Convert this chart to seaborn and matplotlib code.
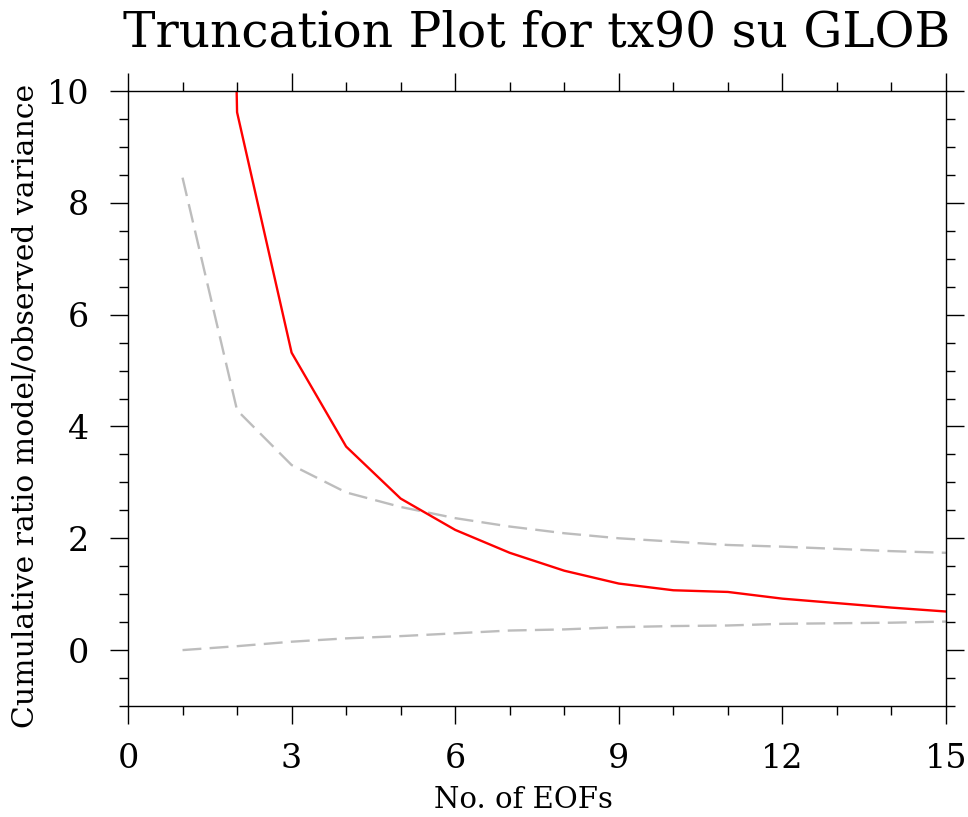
import matplotlib
matplotlib.use("Agg")
import matplotlib.pyplot as plt
from matplotlib.ticker import MultipleLocator
import seaborn as sns
import pandas as pd

# ---- data ----
n_eofs = [1, 2, 3, 4, 5, 6, 7, 8, 9, 10, 11, 12, 13, 14, 15]
ratio = [60.0, 9.62, 5.32, 3.64, 2.71, 2.15, 1.74, 1.42, 1.19, 1.07, 1.04, 0.92, 0.84, 0.76, 0.69]
upper_bound = [8.45, 4.29, 3.31, 2.82, 2.56, 2.36, 2.21, 2.09, 2.00, 1.94, 1.88, 1.85, 1.81, 1.77, 1.74]
lower_bound = [0.00, 0.07, 0.15, 0.21, 0.25, 0.30, 0.35, 0.37, 0.41, 0.43, 0.44, 0.47, 0.48, 0.49, 0.51]
x_ticks = [0, 3, 6, 9, 12, 15]
y_ticks = [0, 2, 4, 6, 8, 10]

title = "Truncation Plot for tx90 su GLOB"
xlabel = "No. of EOFs"
ylabel = "Cumulative ratio model/observed variance"

df = pd.DataFrame({"eof": n_eofs, "ratio": ratio,
                   "upper": upper_bound, "lower": lower_bound})

sns.set_style("ticks")
plt.rcParams["font.family"] = ["DejaVu Serif"]
plt.rcParams["text.color"] = "black"
plt.rcParams["axes.labelcolor"] = "black"
plt.rcParams["xtick.color"] = "black"
plt.rcParams["ytick.color"] = "black"

W, H = 968, 817
fig = plt.figure(figsize=(W / 100, H / 100), dpi=100)
ax = fig.add_axes([128 / W, 1 - 706 / H, (946 - 128) / W, (706 - 91) / H])

grey = "#bdbdbd"
sns.lineplot(data=df, x="eof", y="upper", ax=ax, color=grey, lw=1.7,
             linestyle=(0, (8, 3.5)))
sns.lineplot(data=df, x="eof", y="lower", ax=ax, color=grey, lw=1.7,
             linestyle=(0, (8, 3.5)))
sns.lineplot(data=df, x="eof", y="ratio", ax=ax, color="#ff0000", lw=1.7)

ax.set_xlim(0, 15)
ax.set_ylim(-1, 10)
ax.set_xticks(x_ticks)
ax.set_yticks(y_ticks)
ax.xaxis.set_minor_locator(MultipleLocator(1))
ax.yaxis.set_minor_locator(MultipleLocator(0.5))
ax.tick_params(which="both", direction="out", top=True, right=True,
               color="black", width=1.0)
ax.tick_params(which="major", length=13)
ax.tick_params(which="minor", length=6.5)
ax.tick_params(axis="x", which="major", labelsize=24, pad=14)
ax.tick_params(axis="y", which="major", labelsize=24, pad=15)
for s in ax.spines.values():
    s.set_visible(True)
    s.set_color("black")
    s.set_linewidth(1.0)

ax.set_xlabel(xlabel, fontsize=21)
ax.xaxis.set_label_coords((523 - 128) / 818, (706 - 786) / 615)
ax.xaxis.label.set_va("top")
ax.set_ylabel(ylabel, fontsize=21.5)
ax.yaxis.set_label_coords((40 - 128) / 818, (706 - 406) / 615)

ax.set_title(title, fontsize=35, y=1 + (91 - 46) / 615, pad=0)

fig.savefig("out.png", dpi=100, facecolor="white")
